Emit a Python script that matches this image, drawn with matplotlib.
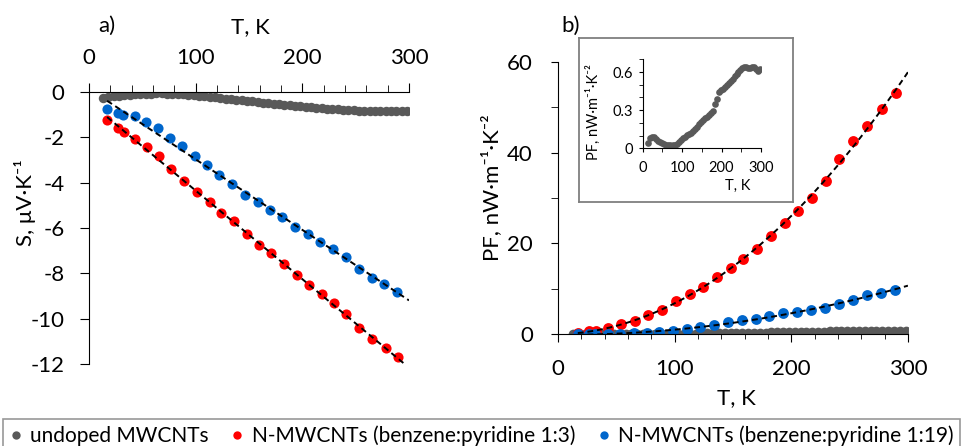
import numpy as np
import matplotlib
matplotlib.use("Agg")
import matplotlib.pyplot as plt
from matplotlib.ticker import MultipleLocator
from matplotlib.lines import Line2D

plt.rcParams['font.family'] = ['Lato', 'DejaVu Sans']
plt.rcParams['axes.unicode_minus'] = False

# ---- data ----
t_undoped = [13, 18, 23, 28, 33, 38, 43, 48, 53, 58, 63, 68, 73, 78, 83, 88, 93, 98,
             103, 108, 113, 118, 123, 128, 133, 138, 143, 148, 153, 158, 163, 168,
             173, 178, 183, 188, 193, 198, 203, 208, 213, 218, 223, 228, 233, 238,
             243, 248, 253, 258, 263, 268, 273, 278, 283, 288, 293, 298]
s_undoped = [-0.25, -0.22, -0.19, -0.17, -0.15, -0.13, -0.11, -0.10, -0.08, -0.07,
             -0.06, -0.06, -0.07, -0.07, -0.09, -0.10, -0.12, -0.14, -0.16, -0.19,
             -0.21, -0.23, -0.26, -0.29, -0.31, -0.34, -0.37, -0.39, -0.42, -0.44,
             -0.47, -0.49, -0.52, -0.54, -0.56, -0.58, -0.61, -0.63, -0.65, -0.67,
             -0.69, -0.71, -0.73, -0.75, -0.77, -0.78, -0.80, -0.81, -0.82, -0.83,
             -0.84, -0.85, -0.85, -0.86, -0.86, -0.86, -0.86, -0.86]
pf_undoped = [0.04, 0.08, 0.09, 0.09, 0.075, 0.06, 0.05, 0.04, 0.033, 0.028, 0.025,
              0.022, 0.02, 0.022, 0.027, 0.035, 0.05, 0.065, 0.08, 0.092, 0.102,
              0.112, 0.124, 0.137, 0.15, 0.168, 0.188, 0.205, 0.22, 0.235, 0.25,
              0.265, 0.28, 0.295, 0.35, 0.385, 0.44, 0.455, 0.465, 0.48, 0.495,
              0.51, 0.53, 0.545, 0.565, 0.585, 0.60, 0.615, 0.63, 0.636, 0.636,
              0.632, 0.632, 0.64, 0.64, 0.625, 0.61, 0.62]

t_13 = [17, 27, 33, 43, 54, 66, 77, 89, 101, 113, 124, 136, 148, 159, 171, 183,
        195, 206, 218, 230, 241, 253, 265, 278, 290]
s_13 = [-1.22, -1.59, -1.78, -2.08, -2.43, -2.84, -3.39, -3.92, -4.43, -4.87, -5.35,
        -5.71, -6.27, -6.74, -7.11, -7.60, -8.07, -8.53, -8.91, -9.29, -9.81, -10.43,
        -10.90, -11.31, -11.71]
pf_13 = [0.2, 0.6, 0.7, 1.3, 2.1, 2.8, 4.2, 5.4, 7.2, 8.9, 10.4, 12.6, 14.5, 16.6,
         18.75, 21.7, 24.5, 27.2, 30.1, 33.8, 38.5, 42.5, 45.8, 49.6, 53.2]

t_119 = [17, 27, 32, 43, 53, 65, 76, 87, 99, 111, 122, 134, 146, 158, 170, 181,
         193, 205, 217, 229, 241, 253, 265, 277, 289]
s_119 = [-0.74, -0.93, -1.00, -1.08, -1.34, -1.60, -2.03, -2.40, -2.81, -3.24, -3.68,
         -4.05, -4.54, -4.87, -5.20, -5.52, -5.94, -6.27, -6.60, -6.91, -7.30, -7.79,
         -8.19, -8.47, -8.82]
pf_119 = [0.0, 0.0, 0.0, 0.05, 0.1, 0.12, 0.22, 0.44, 0.74, 1.1, 1.47, 1.9, 2.57,
          3.0, 3.3, 3.9, 4.6, 4.85, 5.4, 5.7, 6.7, 7.4, 8.5, 9.0, 9.8]

labels = ['undoped MWCNTs', 'N-MWCNTs (benzene:pyridine 1:3)',
          'N-MWCNTs (benzene:pyridine 1:19)']
colors = ['#595959', '#FF0000', '#0066CC']

fig = plt.figure(figsize=(9.63, 4.46), dpi=100)

# ---------- panel a ----------
ax1 = fig.add_axes([0.0924, 0.1839, 0.3323, 0.6099])
ax1.plot(t_undoped, s_undoped, 'o', color=colors[0], ms=6.8, mew=0)
ax1.plot(t_13, s_13, 'o', color=colors[1], ms=7.3, mew=0)
ax1.plot(t_119, s_119, 'o', color=colors[2], ms=7.3, mew=0)
for t, s, tend in [(t_13, s_13, 295), (t_119, s_119, 300)]:
    k = np.polyfit(t, s, 1)
    tt = np.linspace(t[0], tend, 100)
    ax1.plot(tt, np.polyval(k, tt), color='black', lw=1.4, ls=(0, (3, 2)), zorder=5)

ax1.set_xlim(0, 300)
ax1.set_ylim(-12, 0)
ax1.xaxis.tick_top()
ax1.spines['right'].set_visible(False)
ax1.spines['bottom'].set_visible(False)
ax1.set_xticks([0, 100, 200, 300])
ax1.xaxis.set_minor_locator(MultipleLocator(20))
ax1.set_yticks(range(-12, 1, 2))
ax1.tick_params(axis='x', which='major', direction='out', length=6.5, pad=11,
                labelsize=16, top=True, bottom=False)
ax1.tick_params(axis='x', which='minor', direction='out', length=5, top=True,
                bottom=False)
ax1.tick_params(axis='y', direction='out', length=6.5, pad=11, labelsize=16)
ax1.set_xlabel('T, K', fontsize=16)
ax1.xaxis.set_label_position('top')
ax1.xaxis.set_label_coords(0.503, 1.24)
ax1.xaxis.label.set_va('center')
ax1.set_ylabel('S, μV·K⁻¹', fontsize=16)
ax1.yaxis.set_label_coords(-0.2, 0.595)
ax1.yaxis.label.set_va('center')
fig.text(107 / 963, 1 - 26 / 446, 'a)', fontsize=16, ha='center', va='center')

# ---------- panel b ----------
ax2 = fig.add_axes([0.5794, 0.2511, 0.3634, 0.6099])
ax2.plot(t_undoped, pf_undoped, 'o', color=colors[0], ms=7, mew=0)
ax2.plot(t_13, pf_13, 'o', color=colors[1], ms=7.8, mew=0)
ax2.plot(t_119, pf_119, 'o', color=colors[2], ms=7.8, mew=0)
for t, p in [(t_13, pf_13), (t_119, pf_119)]:
    k = np.polyfit(t, p, 2)
    tt = np.linspace(t[0], 300, 100)
    ax2.plot(tt, np.polyval(k, tt), color='black', lw=1.4, ls=(0, (3, 2)), zorder=5)

ax2.set_xlim(0, 300)
ax2.set_ylim(0, 60)
ax2.spines['top'].set_visible(False)
ax2.spines['right'].set_visible(False)
ax2.set_xticks([0, 100, 200, 300])
ax2.xaxis.set_minor_locator(MultipleLocator(20))
ax2.set_yticks([0, 20, 40, 60])
ax2.yaxis.set_minor_locator(MultipleLocator(10))
ax2.tick_params(axis='x', which='major', direction='out', length=6, pad=12, labelsize=16)
ax2.tick_params(axis='x', which='minor', direction='out', length=3.6)
ax2.tick_params(axis='y', which='both', direction='out', length=5, pad=13, labelsize=16)
ax2.set_xlabel('T, K', fontsize=16)
ax2.xaxis.set_label_coords(0.511, -0.235)
ax2.xaxis.label.set_va('center')
ax2.set_ylabel('PF, nW·m⁻¹·K⁻²', fontsize=16)
ax2.yaxis.set_label_coords(-0.189, 0.537)
ax2.yaxis.label.set_va('center')
fig.text(571 / 963, 1 - 26 / 446, 'b)', fontsize=16, ha='center', va='center')

# ---------- inset ----------
axf = fig.add_axes([0.6012, 0.5471, 0.2223, 0.3677])
axf.set_xticks([])
axf.set_yticks([])
for sp in axf.spines.values():
    sp.set_color('#7F7F7F')
    sp.set_linewidth(1.3)

ax3 = fig.add_axes([0.6674, 0.6675, 0.1228, 0.1995])
ax3.plot(t_undoped, pf_undoped, 'o', color=colors[0], ms=4.8, mew=0)
ax3.set_xlim(0, 300)
ax3.set_ylim(0, 0.7)
ax3.spines['top'].set_visible(False)
ax3.spines['right'].set_visible(False)
ax3.set_xticks([0, 100, 200, 300])
ax3.xaxis.set_minor_locator(MultipleLocator(50))
ax3.set_yticks([0, 0.3, 0.6])
ax3.set_yticklabels(['0', '0.3', '0.6'])
ax3.yaxis.set_minor_locator(MultipleLocator(0.1))
ax3.tick_params(axis='x', which='both', direction='out', length=3, pad=6, labelsize=10.5)
ax3.tick_params(axis='y', which='both', direction='out', length=3, pad=4, labelsize=10.5)
ax3.set_xlabel('T, K', fontsize=10.5)
ax3.xaxis.set_label_coords(0.806, -0.424)
ax3.xaxis.label.set_va('center')
ax3.set_ylabel('PF, nW·m⁻¹·K⁻²', fontsize=10.5)
ax3.yaxis.set_label_coords(-0.42, 0.41)
ax3.yaxis.label.set_va('center')

# ---------- legend ----------
handles = [Line2D([], [], marker='o', ls='none', color=c, ms=6, mew=0) for c in colors]
leg = fig.legend(handles, labels, ncol=3, loc='upper left', mode='expand',
                 bbox_to_anchor=(3 / 963, 1 - 419 / 446, 957 / 963, 0),
                 fontsize=15, frameon=True, fancybox=False, borderaxespad=0,
                 handlelength=0.6, handletextpad=0.4, borderpad=0.3)
leg.get_frame().set_edgecolor('#7F7F7F')
leg.get_frame().set_linewidth(1.2)

fig.savefig('out.png', dpi=100)
